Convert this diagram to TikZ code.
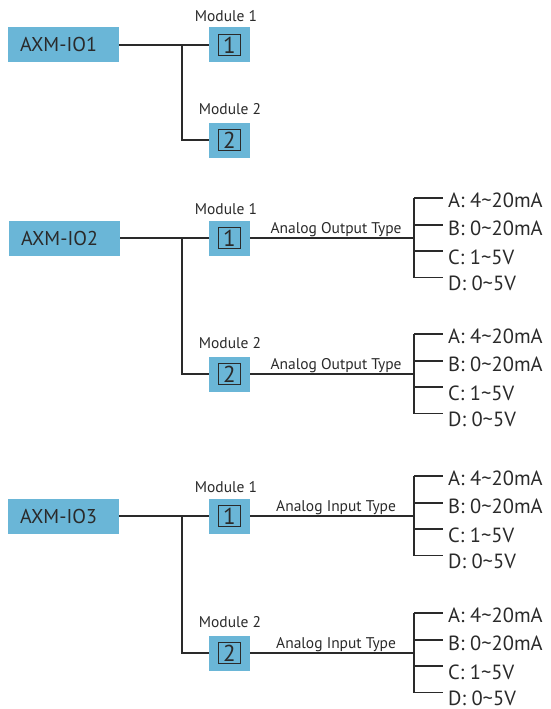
\documentclass[tikz,border=0pt]{standalone}
\usepackage{fontspec}
\setmainfont{PT Sans}
\usetikzlibrary{positioning,calc}
\definecolor{Sky}{HTML}{6AB6D7}
\definecolor{Ink}{HTML}{2A2A2A}

\begin{document}
\begin{tikzpicture}[x=1pt,y=-1pt,
    wire/.style={draw=Ink,line width=1.3pt},
    unit/.style={fill=Sky,text=Ink,minimum height=35pt,inner xsep=12pt,
                 text width=87pt,align=left,font=\fontsize{20}{24}\selectfont},
    modbox/.style={fill=Sky,minimum width=41pt,minimum height=35pt},
    modnum/.style={draw=Ink,line width=1.1pt,text=Ink,minimum width=22pt,
                   minimum height=21pt,inner sep=0pt,font=\fontsize{23}{24}\selectfont},
    modlab/.style={text=Ink,inner sep=0pt,font=\fontsize{15.5}{18}\selectfont},
    optlab/.style={text=Ink,inner sep=0pt,anchor=west,font=\fontsize{20.5}{24}\selectfont}]
  \useasboundingbox (0,0) rectangle (550,709);

  % first unit: two bare modules
  \node[unit] (u1) at (63.5,45) {AXM-IO1};
  \node[modbox] (m11) at (229.5,45) {};
  \node[modbox] (m12) at (229.5,140) {};
  \node[modnum] (d11) at (m11) {1};
  \node[modnum] (d12) at (m12) {2};
  \node[modlab,above=5pt of m11,xshift=-3.5pt] (l11) {Module 1};
  \node[modlab,above=7pt of m12,xshift=0.5pt] (l12) {Module 2};
  \coordinate (b1) at (182,45);
  \draw[wire] (u1) -- (m11);
  \draw[wire] (b1) |- (m12);

  % second unit
  \node[unit] (u2) at (64.5,238) {AXM-IO2};
  \node[modbox] (m21) at (229.5,238) {};
  \node[modbox] (m22) at (229.5,374) {};
  \node[modnum] (d21) at (m21) {1};
  \node[modnum] (d22) at (m22) {2};
  \node[modlab,above=5pt of m21,xshift=-3.5pt] (l21) {Module 1};
  \node[modlab,above=7pt of m22,xshift=0.5pt] (l22) {Module 2};
  \coordinate (b2) at (182,238);
  \draw[wire] (u2) -- (m21);
  \draw[wire] (b2) |- (m22);

  % third unit
  \node[unit] (u3) at (63.5,516) {AXM-IO3};
  \node[modbox] (m31) at (229.5,516) {};
  \node[modbox] (m32) at (229.5,653) {};
  \node[modnum] (d31) at (m31) {1};
  \node[modnum] (d32) at (m32) {2};
  \node[modlab,above=5pt of m31,xshift=-3.5pt] (l31) {Module 1};
  \node[modlab,above=7pt of m32,xshift=0.5pt] (l32) {Module 2};
  \coordinate (b3) at (182,516);
  \draw[wire] (u3) -- (m31);
  \draw[wire] (b3) |- (m32);

  % signal type fans
  \foreach \m/\ym/\kind in {21/238/Output,22/374/Output,31/516/Input,32/653/Input}{
    \coordinate (j\m) at (414,\ym);
    \draw[wire] (m\m) -- (j\m);
    \node[modlab,anchor=base] (t\m) at ($(m\m.east)!.5!(j\m)+(4,-5)$) {Analog \kind\ Type};
    \foreach \k/\dt/\dl/\val in {1/-40/-38/{A: 4\textasciitilde20mA},
                                 2/-13/-9.5/{B: 0\textasciitilde20mA},
                                 3/13/19/{C: 1\textasciitilde5V},
                                 4/39.5/45/{D: 0\textasciitilde5V}}{
      \coordinate (v\m\k) at (414,\ym+\dt);
      \node[optlab] (o\m\k) at (448,\ym+\dl) {\val};
      \draw[wire,shorten >=5pt] (v\m\k) -- (v\m\k -| o\m\k.west);
    }
    \draw[wire] (v\m1) -- (v\m4);
  }
\end{tikzpicture}
\end{document}
